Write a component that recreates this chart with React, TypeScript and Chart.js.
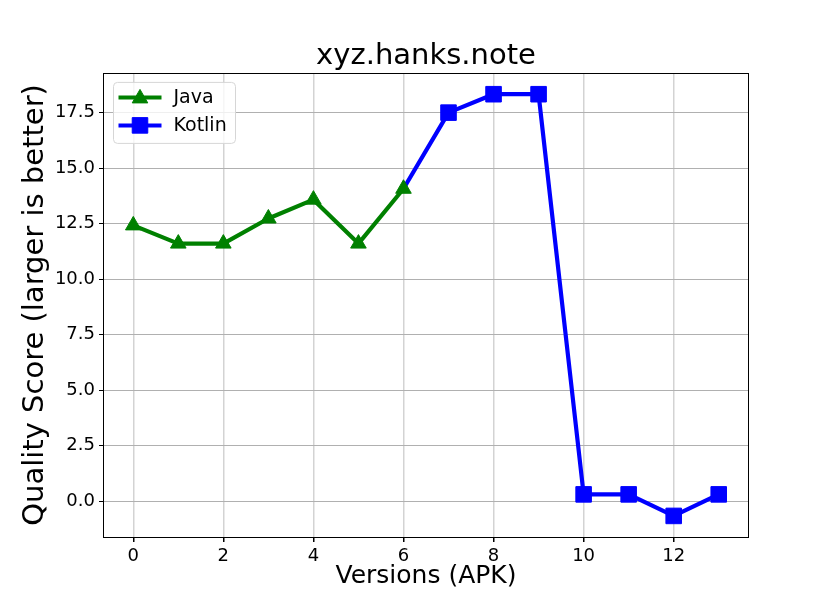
import React, { useEffect, useRef } from 'react';
import { Chart, registerables } from 'chart.js';

Chart.register(...registerables);

const chartTitle = 'xyz.hanks.note';
const xAxisLabel = 'Versions (APK)';
const yAxisLabel = 'Quality Score (larger is better)';

const javaVersions = [0, 1, 2, 3, 4, 5, 6];
const javaScores = [12.42, 11.6, 11.6, 12.73, 13.58, 11.6, 14.07];

const kotlinVersions = [6, 7, 8, 9, 10, 11, 12, 13];
const kotlinScores = [14.07, 17.5, 18.33, 18.33, 0.3, 0.3, -0.67, 0.3];

const xTicks = [0, 2, 4, 6, 8, 10, 12];
const yTicks = [0, 2.5, 5, 7.5, 10, 12.5, 15, 17.5];

const seriesNames = ['Java', 'Kotlin'];
const JAVA_COLOR = '#008000';
const KOTLIN_COLOR = '#0000ff';
const FONT = "'DejaVu Sans', sans-serif";

function drawMarker(ctx: CanvasRenderingContext2D, kind: string, x: number, y: number, r: number, color: string) {
  ctx.save();
  ctx.fillStyle = color;
  ctx.strokeStyle = color;
  ctx.lineWidth = 1;
  ctx.beginPath();
  if (kind === 'triangle') {
    const w = r;
    const step = (2 * Math.PI) / 3;
    let rad = 0;
    ctx.moveTo(x + Math.sin(rad) * w, y - Math.cos(rad) * r);
    rad += step;
    ctx.lineTo(x + Math.sin(rad) * w, y - Math.cos(rad) * r);
    rad += step;
    ctx.lineTo(x + Math.sin(rad) * w, y - Math.cos(rad) * r);
    ctx.closePath();
  } else {
    const s = Math.SQRT1_2 * r;
    ctx.rect(x - s, y - s, 2 * s, 2 * s);
  }
  ctx.fill();
  ctx.stroke();
  ctx.restore();
}

const framePlugin = {
  id: 'frame',
  afterDatasetsDraw(chart: any) {
    const { ctx, chartArea } = chart;
    ctx.save();
    ctx.strokeStyle = '#000000';
    ctx.lineWidth = 1;
    ctx.strokeRect(Math.round(chartArea.left) - 0.5, Math.round(chartArea.top) + 0.5,
      Math.round(chartArea.right - chartArea.left) + 1, Math.round(chartArea.bottom - chartArea.top));
    ctx.restore();
  },
};

const legendPlugin = {
  id: 'mplLegend',
  afterDraw(chart: any) {
    const { ctx, chartArea } = chart;
    const bx = chartArea.left + 9.5;
    const by = chartArea.top + 9.5;
    const bw = 122;
    const bh = 61;
    ctx.save();
    ctx.beginPath();
    const rr = 4;
    ctx.moveTo(bx + rr, by);
    ctx.lineTo(bx + bw - rr, by);
    ctx.quadraticCurveTo(bx + bw, by, bx + bw, by + rr);
    ctx.lineTo(bx + bw, by + bh - rr);
    ctx.quadraticCurveTo(bx + bw, by + bh, bx + bw - rr, by + bh);
    ctx.lineTo(bx + rr, by + bh);
    ctx.quadraticCurveTo(bx, by + bh, bx, by + bh - rr);
    ctx.lineTo(bx, by + rr);
    ctx.quadraticCurveTo(bx, by, bx + rr, by);
    ctx.closePath();
    ctx.fillStyle = 'rgba(255,255,255,0.8)';
    ctx.fill();
    ctx.strokeStyle = '#d6d6d6';
    ctx.lineWidth = 1;
    ctx.stroke();

    const items = [
      { name: seriesNames[0], color: JAVA_COLOR, marker: 'triangle', r: 9 },
      { name: seriesNames[1], color: KOTLIN_COLOR, marker: 'rect', r: 11 },
    ];
    items.forEach((it, i) => {
      const cy = by + 15 + i * 28;
      const x0 = bx + 5;
      const x1 = bx + 48;
      ctx.beginPath();
      ctx.moveTo(x0, cy);
      ctx.lineTo(x1, cy);
      ctx.strokeStyle = it.color;
      ctx.lineWidth = 4;
      ctx.stroke();
      drawMarker(ctx, it.marker, (x0 + x1) / 2, cy + (it.marker === 'triangle' ? 1 : 0), it.r, it.color);
      ctx.fillStyle = '#000000';
      ctx.font = `19px ${FONT}`;
      ctx.textAlign = 'left';
      ctx.textBaseline = 'middle';
      ctx.fillText(it.name, bx + 60, cy + 1);
    });
    ctx.restore();
  },
};

export default function App() {
  const canvasRef = useRef<HTMLCanvasElement | null>(null);

  useEffect(() => {
    const canvas = canvasRef.current;
    if (!canvas) return;
    const chart = new Chart(canvas, {
      type: 'line',
      data: {
        datasets: [
          {
            label: seriesNames[0],
            data: javaVersions.map((v, i) => ({ x: v, y: javaScores[i] })),
            borderColor: JAVA_COLOR,
            backgroundColor: JAVA_COLOR,
            pointBackgroundColor: JAVA_COLOR,
            pointBorderColor: JAVA_COLOR,
            borderWidth: 4.2,
            pointStyle: 'triangle',
            pointRadius: 9,
            pointBorderWidth: 1,
            borderJoinStyle: 'round',
            tension: 0,
            order: 0,
          },
          {
            label: seriesNames[1],
            data: kotlinVersions.map((v, i) => ({ x: v, y: kotlinScores[i] })),
            borderColor: KOTLIN_COLOR,
            backgroundColor: KOTLIN_COLOR,
            pointBackgroundColor: KOTLIN_COLOR,
            pointBorderColor: KOTLIN_COLOR,
            borderWidth: 4.2,
            pointStyle: 'rect',
            pointRadius: kotlinVersions.map((_, i) => (i === 0 ? 0 : 11)),
            pointBorderWidth: 1,
            borderJoinStyle: 'round',
            tension: 0,
            order: 1,
          },
        ],
      },
      options: {
        animation: false,
        responsive: false,
        devicePixelRatio: 1,
        layout: { padding: { left: 0, right: 82, top: 0, bottom: 0 } },
        plugins: {
          legend: { display: false },
          tooltip: { enabled: false },
          title: {
            display: true,
            text: chartTitle,
            fullSize: false,
            color: '#000000',
            font: { family: FONT, size: 29, weight: 'normal', lineHeight: 1.1 },
            padding: { top: 41, bottom: 0 },
          },
        },
        scales: {
          x: {
            type: 'linear',
            min: -0.65,
            max: 13.65,
            afterFit: (s: any) => { s.height = 67; },
            afterBuildTicks: (s: any) => { s.ticks = xTicks.map((v) => ({ value: v })); },
            ticks: {
              color: '#000000',
              font: { family: FONT, size: 18 },
              padding: 4,
              maxRotation: 0,
              autoSkip: false,
              callback: (v: any) => String(v),
            },
            grid: { color: '#d3d3d3', lineWidth: 1.5, tickColor: '#000000', tickLength: 5, drawTicks: true },
            border: { display: false },
            title: {
              display: true,
              text: xAxisLabel,
              color: '#000000',
              font: { family: FONT, size: 25, lineHeight: 1.2 },
              padding: { top: 0, bottom: 13 },
            },
          },
          y: {
            type: 'linear',
            min: -1.62,
            max: 19.29,
            afterFit: (s: any) => { s.width = 104; },
            afterBuildTicks: (s: any) => { s.ticks = yTicks.map((v) => ({ value: v })); },
            ticks: {
              color: '#000000',
              font: { family: FONT, size: 18 },
              padding: 4,
              autoSkip: false,
              callback: (v: any) => Number(v).toFixed(1),
            },
            grid: { color: '#b0b0b0', lineWidth: 1, tickColor: '#000000', tickLength: 5, drawTicks: true },
            border: { display: false },
            title: {
              display: true,
              text: yAxisLabel,
              color: '#000000',
              font: { family: FONT, size: 29, lineHeight: 1.2 },
              padding: { top: 18, bottom: 0 },
            },
          },
        },
      } as any,
      plugins: [framePlugin, legendPlugin],
    });
    return () => chart.destroy();
  }, []);

  return (
    <div style={{ position: 'absolute', left: 0, top: 0, width: 830, height: 604, background: '#ffffff' }}>
      <canvas ref={canvasRef} width={830} height={604} style={{ display: 'block', width: 830, height: 604 }} />
    </div>
  );
}
